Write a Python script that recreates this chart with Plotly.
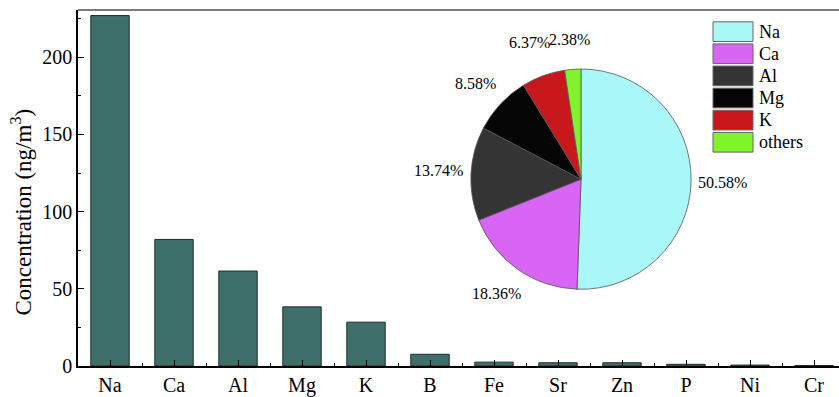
import plotly.graph_objects as go

# Element concentrations (ng/m3)
elements = ["Na", "Ca", "Al", "Mg", "K", "B", "Fe", "Sr", "Zn", "P", "Ni", "Cr"]
concentration = [227, 82.0, 61.5, 38.3, 28.4, 7.6, 2.5, 2.1, 2.1, 1.1, 0.6, 0.3]

# Share of total mass (%)
pie_labels = ["Na", "Ca", "Al", "Mg", "K", "others"]
pie_share = [50.58, 18.36, 13.74, 8.58, 6.37, 2.38]
pie_colors = ["#a9f7f8", "#d865f4", "#343434", "#050505", "#c9181c", "#7ff42b"]

W, H = 839, 397
ML, MR, MT, MB = 78, 0, 10, 25
PW, PH = W - ML - MR, H - MT - MB


def px(x):
    return (x - ML) / PW


def py(y):
    return (H - MB - y) / PH


FONT = "Liberation Serif"
fig = go.Figure()

fig.add_trace(go.Bar(
    x=list(range(len(elements))), y=concentration, width=0.6,
    marker=dict(color="#3e6f6b", line=dict(color="#1e2e2c", width=1)),
    showlegend=False, hoverinfo="skip",
))

# pie inset, centred near (581, 182) px
cx, cy, r = 581, 182, 112
fig.add_trace(go.Pie(
    labels=pie_labels, values=pie_share, sort=False,
    direction="clockwise", rotation=0,
    marker=dict(colors=pie_colors, line=dict(color="#555555", width=0.8)),
    textinfo="none",
    domain=dict(x=[px(cx - r), px(cx + r)], y=[py(cy + r), py(cy - r)]),
    showlegend=False, hoverinfo="skip",
))

# percentage labels around the pie (pixel centres of each label)
label_pos = [(722, 185), (497, 298), (438, 173), (475, 85), (529, 43), (569, 40)]
for v, (lx, ly) in zip(pie_share, label_pos):
    fig.add_annotation(xref="paper", yref="paper", x=px(lx), y=py(ly),
                       text=f"{v:.2f}%", showarrow=False,
                       xanchor="center", yanchor="middle",
                       font=dict(family=FONT, size=16, color="black"))

# legend for the pie: colour boxes plus labels
bx0, bx1, by0, bh, step = 713, 753, 22, 20, 22.5
for i, (lab, col) in enumerate(zip(pie_labels, pie_colors)):
    y0 = by0 + i * step
    fig.add_shape(type="rect", xref="paper", yref="paper",
                  x0=px(bx0), x1=px(bx1), y0=py(y0 + bh), y1=py(y0),
                  fillcolor=col, line=dict(color="#666666", width=1))
    fig.add_annotation(xref="paper", yref="paper", x=px(bx1 + 4), y=py(y0 + bh / 2),
                       text=lab, showarrow=False, xanchor="left", yanchor="middle",
                       font=dict(family=FONT, size=18, color="black"))

fig.update_xaxes(
    range=[-0.5, -0.5 + PW / 64.0],
    tickmode="array", tickvals=list(range(len(elements))), ticktext=elements,
    ticks="inside", ticklen=6, tickcolor="black", tickwidth=1,
    minor=dict(tickmode="linear", tick0=0.5, dtick=1, ticks="inside", ticklen=3,
               tickcolor="black"),
    showline=True, linecolor="black", linewidth=1.5, mirror=False,
    showgrid=False, zeroline=False,
    tickfont=dict(family=FONT, size=20, color="black"),
)
fig.update_yaxes(
    range=[0, 230.6], tickvals=[0, 50, 100, 150, 200],
    ticks="inside", ticklen=6, tickcolor="black",
    minor=dict(dtick=25, ticks="inside", ticklen=3, tickcolor="black"),
    showline=True, linecolor="black", linewidth=1.5,
    showgrid=False, zeroline=False,
    tickfont=dict(family=FONT, size=20, color="black"),
)

# y-axis title
fig.add_annotation(xref="paper", yref="paper", x=px(22), y=py(216),
                   text="Concentration (ng/m<sup>3</sup>)", textangle=-90,
                   showarrow=False, xanchor="center", yanchor="middle",
                   font=dict(family=FONT, size=23, color="black"))

# top frame line
fig.add_shape(type="line", xref="paper", yref="paper", x0=0, x1=1, y0=1, y1=1,
              line=dict(color="#7a7a7a", width=2))

fig.update_layout(
    width=W, height=H,
    margin=dict(l=ML, r=MR, t=MT, b=MB),
    plot_bgcolor="white", paper_bgcolor="white",
    bargap=0.4,
)

fig.write_html("out.html")
